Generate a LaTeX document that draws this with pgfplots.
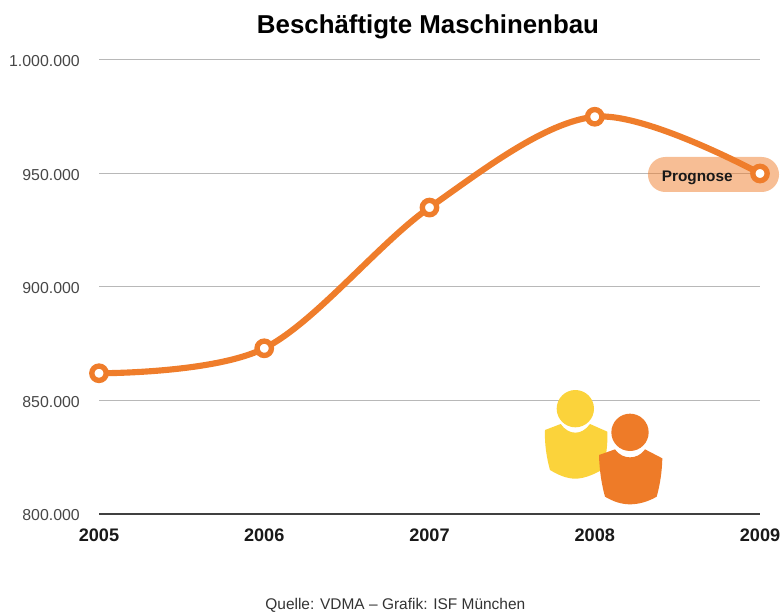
\documentclass[border=0pt]{standalone}
\usepackage{pgfplots}
\pgfplotsset{compat=1.18}
\usepackage{fontspec}
\setmainfont{Liberation Sans}
\definecolor{curve}{HTML}{EF7D2B}
\definecolor{iconyellow}{HTML}{FBD33B}
\definecolor{iconorange}{HTML}{EE7B28}
\begin{document}
\begin{tikzpicture}
\path[use as bounding box] (0,0) rectangle (585pt,460.5pt);
\begin{axis}[
  at={(74.25pt,75pt)}, anchor=south west,
  scale only axis, width=495.75pt, height=340.5pt,
  xmin=2005, xmax=2009, ymin=800000, ymax=1000000,
  xtick={2005,2006,2007,2008,2009},
  ytick={800000,850000,900000,950000,1000000},
  yticklabels={},
  scaled y ticks=false, clip=false,
  axis x line*=bottom, axis y line*=left,
  y axis line style={draw=none},
  ymajorgrids, grid style={color=black!28, line width=0.75pt},
  x axis line style={color=black!75, line width=1pt, -},
  tick style={draw=none},
  /pgf/number format/assume math mode=true,
  x tick label style={/pgf/number format/1000 sep={}, font=\fontsize{13.6pt}{16pt}\selectfont\bfseries, text=black!90, yshift=-7.5pt},
]
\fill[curve, opacity=0.5, rounded corners=13pt] (axis cs:2008.322,941850) rectangle (axis cs:2009.115,957269);
\node[font=\fontsize{11.5pt}{13pt}\selectfont\bfseries, text=black!90] at (axis cs:2008.62,948300) {Prognose};
\addplot[curve, line width=4.6pt, smooth, tension=0.55,
  mark=*, mark size=5.4pt, mark options={fill=white, draw=curve, line width=4pt}]
  coordinates {(2005,862000) (2006,873000) (2007,935000) (2008,975000) (2009,950000)};
\end{axis}
% y labels
\foreach \v/\py in {1.000.000/61,950.000/175,900.000/288,850.000/402,800.000/515}{
  \node[anchor=east, inner sep=0pt, text=black!72, font=\fontsize{11.9pt}{14pt}\selectfont] at (60pt,{460.5pt-\py*0.75pt}) {\v};
}
\node[font=\fontsize{19.4pt}{22pt}\selectfont\bfseries, text=black] at (321pt,440.5pt) {Beschäftigte Maschinenbau};
\node[font=\fontsize{11.6pt}{13pt}\selectfont, text=black!80] at (296.5pt,6.5pt) {Quelle: VDMA – Grafik: ISF München};
\begin{scope}[shift={(390pt,175.5pt)},x=.25pt,y=-.25pt]
\fill[iconyellow] (166,86) circle [radius=14pt];
\fill[iconyellow] (122,132) .. controls (135,150) and (150,158) .. (166,158) .. controls (182,158) and (197,150) .. (210,132)
  -- (262,155) .. controls (264,190) and (258,235) .. (248,268) .. controls (220,285) and (190,296) .. (166,296)
  .. controls (140,296) and (115,285) .. (90,270) .. controls (80,235) and (73,190) .. (75,150) -- cycle;
\fill[iconorange] (330,157) circle [radius=14pt];
\fill[iconorange] (285,208) .. controls (298,226) and (314,232) .. (330,232) .. controls (346,232) and (362,226) .. (375,208)
  -- (427,235) .. controls (426,275) and (420,315) .. (410,350) .. controls (385,365) and (355,373) .. (330,373)
  .. controls (305,373) and (280,365) .. (255,350) .. controls (245,315) and (238,270) .. (237,225) -- cycle;
\end{scope}
\end{tikzpicture}
\end{document}
